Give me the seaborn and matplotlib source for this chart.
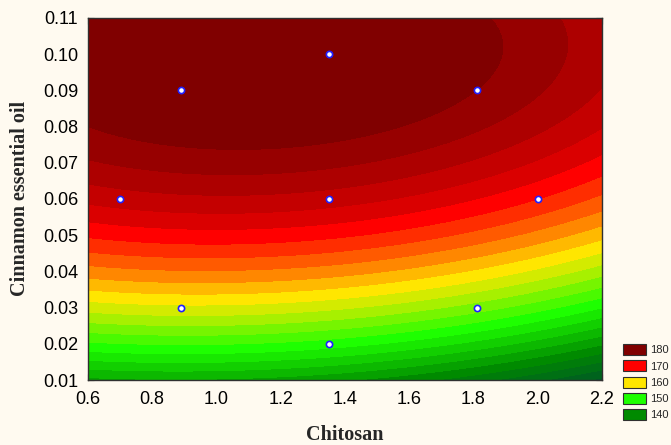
import numpy as np
import matplotlib
matplotlib.use("Agg")
import matplotlib.pyplot as plt
from matplotlib.colors import LinearSegmentedColormap
from matplotlib.patches import Patch
import seaborn as sns

# design points (chitosan, cinnamon oil) and the estimated response at each
chitosan = [0.89, 1.81, 0.89, 1.81, 0.70, 2.00, 1.35, 1.35, 1.35]
oil = [0.03, 0.03, 0.09, 0.09, 0.06, 0.06, 0.02, 0.10, 0.06]
response = [159.5, 155.0, 182.5, 180.0, 175.0, 170.0, 151.0, 183.0, 175.0]

legend_levels = [180, 170, 160, 150, 140]
legend_colors = ["#800000", "#FF0000", "#FFE600", "#1EFF00", "#008A00"]

sns.set_style("ticks")
plt.rcParams["font.family"] = ["Liberation Sans", "DejaVu Sans"]

bg = "#FFFAF0"
fig = plt.figure(figsize=(6.71, 4.45), dpi=100, facecolor=bg)
ax = fig.add_axes([0.131, 0.146, 0.766, 0.814])

# quadratic surface fitted to the design points
x = np.array(chitosan)
y = np.array(oil)
z = np.array(response)
A = np.column_stack([np.ones_like(x), x, y, x**2, y**2, x * y])
coef, *_ = np.linalg.lstsq(A, z, rcond=None)

gx, gy = np.meshgrid(np.linspace(0.6, 2.2, 400), np.linspace(0.01, 0.11, 400))
gz = (coef[0] + coef[1] * gx + coef[2] * gy + coef[3] * gx**2
      + coef[4] * gy**2 + coef[5] * gx * gy)

# colour scale like Statistica: dark green -> green -> yellow -> red -> dark red
cmap = LinearSegmentedColormap.from_list(
    "stat", [(0.0, "#004A30"), (0.2, "#008A00"), (0.4, "#1EFF00"),
             (0.6, "#FFE600"), (0.8, "#FF0000"), (0.84, "#DC0000"),
             (1.0, "#800000")])
levels = np.arange(120, 202, 2)
band_colors = [cmap(np.clip((lv - 130) / 50, 0, 1)) for lv in levels[:-1]]
ax.contourf(gx, gy, gz, levels=levels, colors=band_colors, antialiased=False)

sns.scatterplot(x=chitosan, y=oil, ax=ax, marker="o", s=20, color="white",
                edgecolor="#2020FF", linewidth=1.2, zorder=3)

ax.set_xlim(0.6, 2.2)
ax.set_ylim(0.01, 0.11)
xt = np.arange(0.6, 2.21, 0.2)
yt = np.arange(0.01, 0.111, 0.01)
ax.set_xticks(xt)
ax.set_yticks(yt)
ax.set_xticklabels([f"{v:.1f}" for v in xt])
ax.set_yticklabels([f"{v:.2f}" for v in yt])
ax.tick_params(direction="in", length=4, width=0.8, top=True, right=True,
               labelsize=13, colors="black")
ax.tick_params(axis="x", pad=8)
ax.tick_params(axis="y", pad=7)
for s in ax.spines.values():
    s.set_linewidth(1.0)
    s.set_color("#303030")

lab = dict(family=["Liberation Serif", "DejaVu Serif"], fontweight="bold", fontsize=14.5)
ax.set_xlabel("Chitosan", labelpad=12, **lab)
ax.set_ylabel("Cinnamon essential oil", labelpad=9, **lab)

handles = [Patch(facecolor=c, edgecolor="#303030", linewidth=0.8) for c in legend_colors]
fig.legend(handles, [str(v) for v in legend_levels], loc="upper left",
           bbox_to_anchor=(0.928, 0.227), frameon=False, fontsize=8,
           handlelength=2.1, handleheight=1.15, handletextpad=0.35,
           labelspacing=0.45, borderaxespad=0, borderpad=0)

fig.savefig("out.png", dpi=100, facecolor=bg)
